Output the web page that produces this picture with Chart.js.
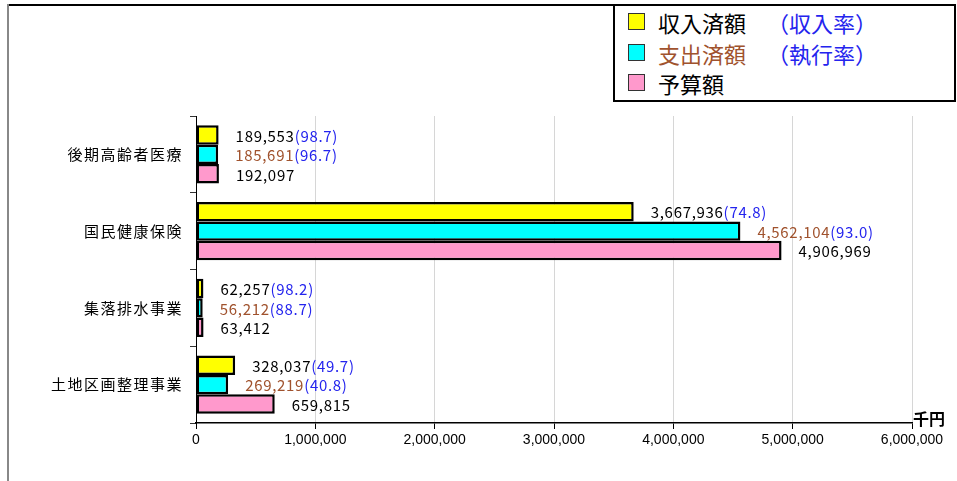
<!DOCTYPE html>
<html>
<head>
<meta charset="utf-8">
<script src="https://cdn.jsdelivr.net/npm/chart.js@4"></script>
<style>
body { margin: 0; background: #fff; }
#wrap { position: relative; width: 957px; height: 481px; overflow: hidden; }
#chart { position: absolute; left: 0; top: 0; }
.frameTop { position: absolute; left: 8px; top: 4px; width: 606px; height: 2px; background: #000; }
.frameLeft { position: absolute; left: 7px; top: 4px; width: 2px; height: 477px; background: #888; }
#legend { position: absolute; left: 613px; top: 4px; width: 343px; height: 98px; border: 2px solid #000; box-sizing: border-box; background: #fff; font-family: "Noto Sans CJK JP", sans-serif; font-size: 22px; }
.item { position: absolute; left: 0; height: 30px; line-height: 30px; }
.box { position: absolute; left: 13px; top: 6px; width: 15px; height: 15px; border: 1.5px solid #333; }
.txt { position: absolute; left: 43px; white-space: nowrap; }
.rate { position: absolute; left: 152px; white-space: nowrap; color: #2424ee; }
</style>
</head>
<body>
<div id="wrap">
<canvas id="chart" width="957" height="481"></canvas>
<div class="frameTop"></div>
<div class="frameLeft"></div>
<div id="legend"></div>
</div>
<script>
const categories = ["後期高齢者医療", "国民健康保険", "集落排水事業", "土地区画整理事業"]
const revenue = [189553, 3667936, 62257, 328037]
const revenueRate = ["98.7", "74.8", "98.2", "49.7"]
const spending = [185691, 4562104, 56212, 269219]
const spendingRate = ["96.7", "93.0", "88.7", "40.8"]
const budget = [192097, 4906969, 63412, 659815]
const xTicks = [0, 1000000, 2000000, 3000000, 4000000, 5000000, 6000000]
const seriesNames = ["収入済額", "支出済額", "予算額"]
const rateNames = ["（収入率）", "（執行率）", null]
const fills = ["#ffff00", "#00ffff", "#ff99cc"]
const numColors = ["#000000", "#a0522d", "#000000"]
const rates = [revenueRate, spendingRate, null]
const blue = "#2424ee"

fmt = (v) => v.toLocaleString("en-US")

// legend in html so the two colours per row are easy
const legend = document.getElementById("legend")
seriesNames.forEach((name, i) => {
	const item = document.createElement("div")
	item.className = "item"
	item.style.top = (1 + i * 30.5) + "px"
	item.style.width = "100%"
	const box = document.createElement("div")
	box.className = "box"
	box.style.background = fills[i]
	const txt = document.createElement("span")
	txt.className = "txt"
	txt.style.color = numColors[i]
	txt.innerText = name
	item.appendChild(box)
	item.appendChild(txt)
	if (rateNames[i]) {
		const r = document.createElement("span")
		r.className = "rate"
		r.innerText = rateNames[i]
		item.appendChild(r)
	}
	legend.appendChild(item)
})

const labelPlugin = {
	id: "labels",
	afterDatasetsDraw: (chart) => {
		const ctx = chart.ctx
		ctx.save()
		ctx.font = "15px 'Noto Sans CJK JP'"
		ctx.letterSpacing = "0.7px"
		ctx.textBaseline = "middle"
		ctx.textAlign = "left"
		chart.data.datasets.forEach((ds, d) => {
			const meta = chart.getDatasetMeta(d)
			meta.data.forEach((bar, i) => {
				let x = bar.x + 17
				const y = bar.y + 1
				const num = fmt(ds.data[i])
				ctx.fillStyle = numColors[d]
				ctx.fillText(num, x, y)
				if (rates[d]) {
					x += ctx.measureText(num).width
					ctx.fillStyle = blue
					ctx.fillText("(" + rates[d][i] + ")", x, y)
				}
			})
		})
		ctx.restore()
	},
	afterDraw: (chart) => {
		const ctx = chart.ctx
		const ys = chart.scales.y
		const xs = chart.scales.x
		ctx.save()
		ctx.font = "15px 'Noto Sans CJK JP'"
		ctx.letterSpacing = "1.5px"
		ctx.fillStyle = "#000"
		ctx.textAlign = "right"
		ctx.textBaseline = "middle"
		categories.forEach((c, i) => {
			ctx.fillText(c, ys.right - 13, ys.getPixelForValue(i))
		})
		ctx.letterSpacing = "0px"
		ctx.font = "bold 16px 'Noto Sans CJK JP'"
		ctx.textAlign = "left"
		ctx.fillText("千円", xs.right + 1, xs.top - 4)
		ctx.restore()
	}
}

const datasets = [revenue, spending, budget].map((vals, i) => ({
	label: seriesNames[i],
	data: vals,
	backgroundColor: fills[i],
	borderColor: "#000",
	borderWidth: 2.5,
	borderSkipped: false,
	categoryPercentage: 0.76,
	barPercentage: 1.0
}))

new Chart(document.getElementById("chart"), {
	type: "bar",
	data: {labels: categories, datasets: datasets},
	options: {
		indexAxis: "y",
		responsive: false,
		animation: false,
		layout: {padding: {top: 116, right: 45, left: 0, bottom: 0}},
		plugins: {legend: {display: false}, tooltip: {enabled: false}},
		scales: {
			x: {
				min: 0,
				max: 6000000,
				afterBuildTicks: (scale) => { scale.ticks = xTicks.map(v => ({value: v})) },
				afterFit: (scale) => { scale.height = 58 },
				grid: {color: "#d6d6d6", tickColor: "#000", tickLength: 6},
				border: {color: "#000", width: 1.5},
				ticks: {
					color: "#000",
					padding: 3,
					font: {family: "'Liberation Sans'", size: 14},
					callback: (v) => fmt(v)
				}
			},
			y: {
				afterFit: (scale) => { scale.width = 196 },
				grid: {drawOnChartArea: false, tickColor: "#333", tickLength: 6},
				border: {color: "#000", width: 1},
				ticks: {display: false}
			}
		}
	},
	plugins: [labelPlugin]
})
</script>
</body>
</html>
